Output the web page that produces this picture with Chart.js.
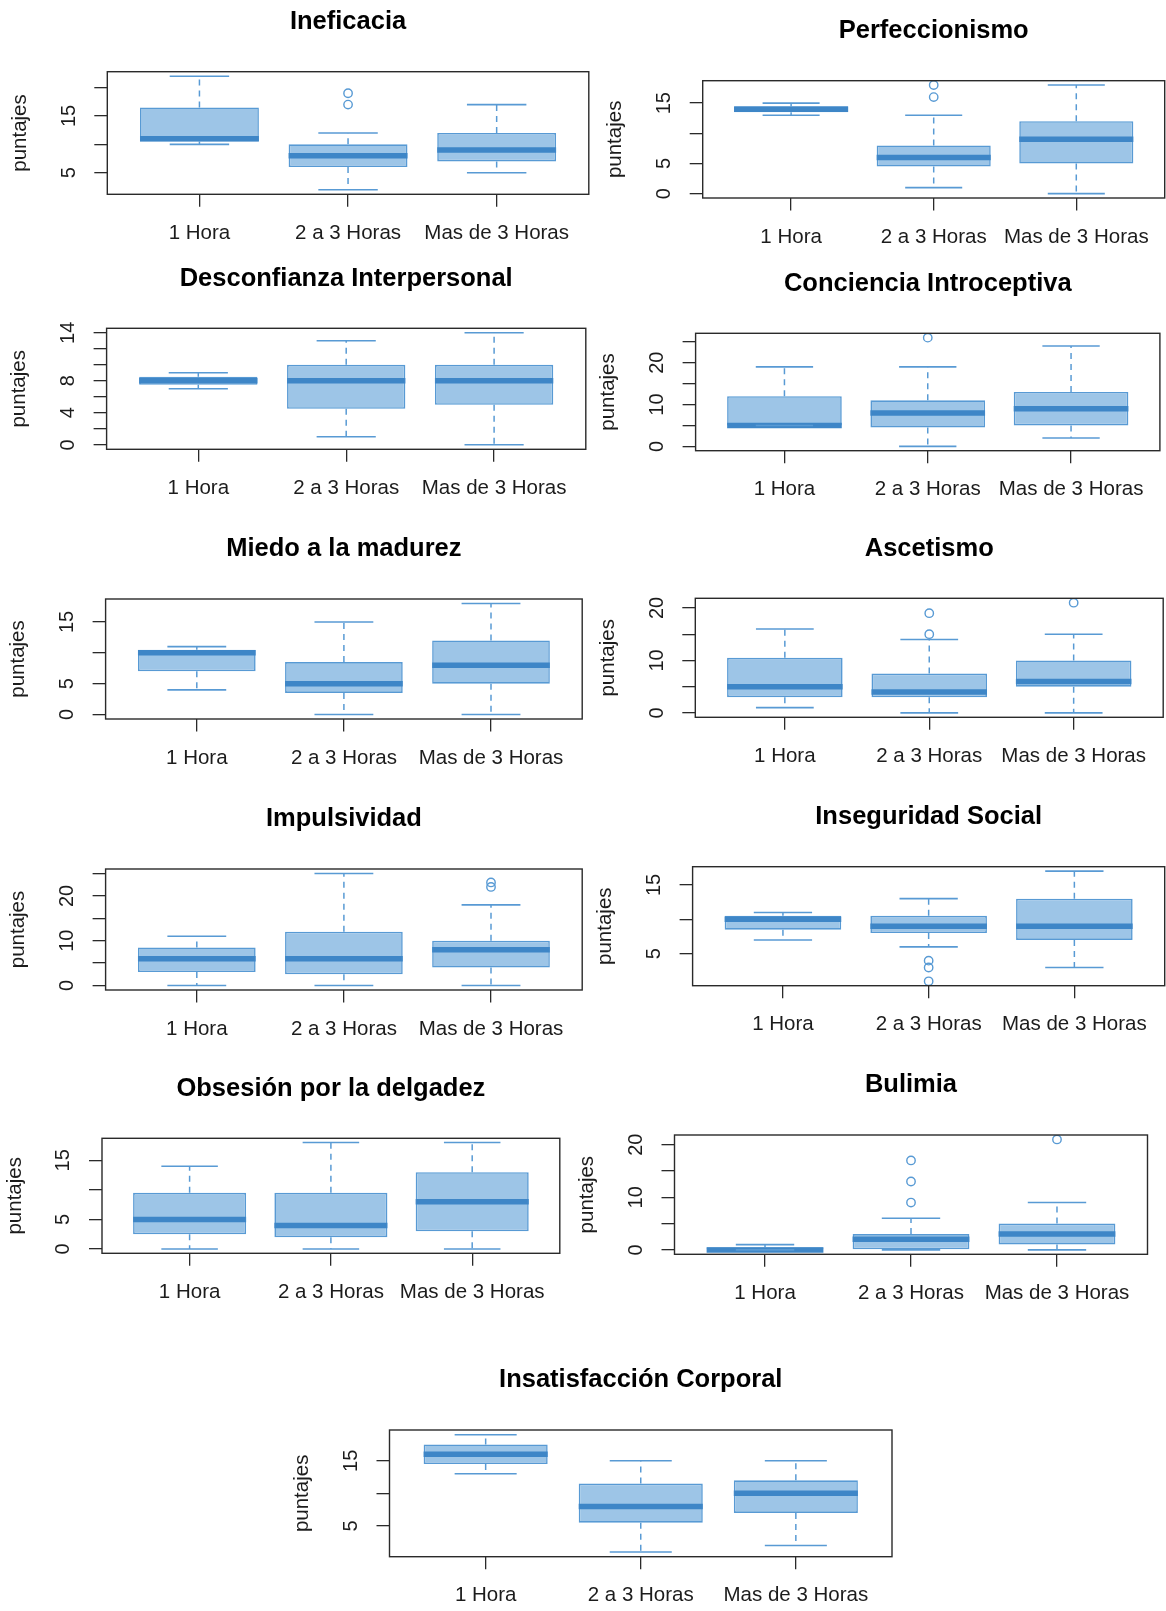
<!DOCTYPE html>
<html>
<head>
<meta charset="utf-8">
<script src="https://cdn.jsdelivr.net/npm/chart.js@4.4.1/dist/chart.umd.min.js"></script>
<style>
html,body{margin:0;padding:0;background:#fff;width:1166px;height:1611px;overflow:hidden;}
#wrap{position:relative;width:1166px;height:1611px;}
canvas{position:absolute;}
</style>
</head>
<body>
<div id="wrap"></div>
<script>
// ---------------- data ----------------
const categories = ['1 Hora', '2 a 3 Horas', 'Mas de 3 Horas'];
const titles = ['Ineficacia', 'Perfeccionismo', 'Desconfianza Interpersonal', 'Conciencia Introceptiva',
  'Miedo a la madurez', 'Ascetismo', 'Impulsividad', 'Inseguridad Social',
  'Obsesión por la delgadez', 'Bulimia', 'Insatisfacción Corporal'];
const yTitle = 'puntajes';

const whiskerLow  = [[10, 2, 5], [13, 1, 0], [7, 1, 0], [5, 0, 2], [4, 0, 0], [1, 0, 0], [0, 0, 0], [7, 6, 3], [0, 0, 0], [0, 0, 0], [13, 1, 2]];
const quartile1   = [[10.5, 6, 7], [13.5, 4.5, 5], [7.5, 4.5, 5], [5, 4.5, 5], [7, 3.5, 5], [3, 3, 5], [3, 2.5, 4], [8.5, 8, 7], [2.5, 2, 3], [0, 0, 1], [14.5, 5.5, 7]];
const medians     = [[11, 8, 9], [14, 6, 9], [8, 8, 8], [5, 8, 9], [10, 5, 8], [5, 4, 6], [6, 6, 8], [10, 9, 9], [5, 4, 8], [0, 2, 3], [16, 8, 10]];
const quartile3   = [[16.5, 10, 12], [14.5, 8, 12], [8.5, 10, 10], [12, 11, 13], [10.5, 8.5, 12], [10.5, 7.5, 10], [8.5, 12, 10], [10.5, 10.5, 13], [9.5, 9.5, 13], [0.5, 3, 5], [17.5, 11.5, 12]];
const whiskerHigh = [[22, 12, 17], [15, 13, 18], [9, 13, 14], [19, 19, 24], [11, 15, 18], [16, 14, 15], [11, 25, 18], [11, 13, 17], [14, 18, 18], [1, 6, 9], [19, 15, 15]];
const outliers    = [[[], [17, 19], []], [[], [16, 18], []], [[], [], []], [[], [26], []], [[], [], []],
  [[], [15, 19], [21]], [[], [], [22, 23]], [[], [1, 3, 4], []], [[], [], []], [[], [9, 13, 17], [21]], [[], [], []]];

const yTicks = [[5, 10, 15, 20], [0, 5, 10, 15], [0, 2, 4, 6, 8, 10, 12, 14], [0, 5, 10, 15, 20, 25], [0, 5, 10, 15],
  [0, 5, 10, 15, 20], [0, 5, 10, 15, 20, 25], [5, 10, 15], [0, 5, 10, 15], [0, 5, 10, 15, 20], [5, 10, 15]];
const yTickLabels = [[5, 15], [0, 5, 15], [0, 4, 8, 14], [0, 10, 20], [0, 5, 15], [0, 10, 20], [0, 10, 20], [5, 15], [0, 5, 15], [0, 10, 20], [5, 15]];

// ---------------- layout (plot frames: left, top, right, bottom) ----------------
const frames = [
  [107.3, 71.7, 588.8, 194.3], [702.7, 80.7, 1164.7, 198],
  [106.6, 328.3, 585.8, 449.3], [695.6, 333.3, 1159.9, 450.7],
  [105.6, 599, 582.2, 719], [695.3, 598.3, 1163.2, 717.3],
  [105.6, 869, 582.2, 990], [692.6, 866.7, 1164.7, 985.7],
  [102, 1138.3, 559.8, 1253.3], [674.5, 1135, 1147.5, 1254.3],
  [389.5, 1430, 892, 1556.7]
];

const FONT = "'Liberation Sans', Arial, Helvetica, sans-serif";
Chart.defaults.font.family = FONT;
const FILL = 'rgb(157,197,231)';
const EDGE = 'rgb(88,154,212)';
const MED = 'rgb(62,134,199)';
const INK = '#1c1c1c';

const TITLE_SIZE = 25.5, TITLE_LH = TITLE_SIZE * 1.2, TITLE_GAP = 49.5;
const AXIS_W = 100, X_AXIS_H = 55;
const LAB_SIZE = 20.5, TICK_SIZE = 20;

const framePlugin = {
  id: 'frame',
  afterDraw(chart) {
    const { ctx, chartArea: a } = chart;
    ctx.save();
    ctx.strokeStyle = '#2a2a2a';
    ctx.lineWidth = 1.4;
    ctx.strokeRect(a.left, a.top, a.right - a.left, a.bottom - a.top);
    ctx.restore();
  }
};

function unitPx(chart, u) {
  const s = chart.scales.x;
  return Math.abs(s.getPixelForValue(1 + u) - s.getPixelForValue(1));
}

const wrap = document.getElementById('wrap');

frames.forEach((f, i) => {
  const canvasLeft = Math.round(f[0] - AXIS_W);
  const yAxisW = f[0] - canvasLeft;
  const canvasW = Math.ceil(f[2] - canvasLeft + 2);
  const padRight = canvasW - (f[2] - canvasLeft);
  const canvasTop = Math.round(f[1] - (TITLE_GAP + TITLE_LH / 2));
  const titlePadBottom = f[1] - canvasTop - TITLE_LH;
  const canvasH = Math.ceil(f[3] - canvasTop + X_AXIS_H);
  const xAxisH = canvasH - (f[3] - canvasTop);
  const puntajesOffset = (f[0] - 87) - canvasLeft - (LAB_SIZE * 1.2) / 2;

  const cv = document.createElement('canvas');
  cv.width = canvasW; cv.height = canvasH;
  cv.style.left = canvasLeft + 'px'; cv.style.top = canvasTop + 'px';
  cv.style.width = canvasW + 'px'; cv.style.height = canvasH + 'px';
  wrap.appendChild(cv);

  const lo = whiskerLow[i], a = quartile1[i], m = medians[i], b = quartile3[i], hi = whiskerHigh[i];
  const outs = outliers[i];
  const allVals = lo.concat(hi, outs.flat());
  const dMin = Math.min(...allVals), dMax = Math.max(...allVals);
  const ext = 0.04 * (dMax - dMin);

  const boxData = categories.map((c, k) => ({ x: k + 1, y: [a[k], b[k]] }));
  const medData = categories.map((c, k) => ({ x: k + 1, y: m[k] }));
  const capData = categories.flatMap((c, k) => [{ x: k + 1, y: lo[k] }, { x: k + 1, y: hi[k] }]);
  const whiskData = categories.flatMap((c, k) => [
    { x: k + 1, y: b[k] }, { x: k + 1, y: hi[k] }, { x: k + 1, y: null },
    { x: k + 1, y: a[k] }, { x: k + 1, y: lo[k] }, { x: k + 1, y: null }
  ]);
  const outData = outs.flatMap((arr, k) => arr.map(v => ({ x: k + 1, y: v })));
  const labelled = yTickLabels[i];

  new Chart(cv, {
    type: 'bar',
    data: {
      datasets: [
        {
          type: 'line', data: whiskData, order: 5,
          borderColor: EDGE, borderWidth: 1.5, borderDash: [6, 5],
          pointRadius: 0, spanGaps: false, fill: false, tension: 0
        },
        {
          type: 'bar', data: boxData, order: 4,
          backgroundColor: FILL, borderColor: EDGE, borderWidth: 1.6, borderSkipped: false,
          barPercentage: 0.8, categoryPercentage: 1.0
        },
        {
          type: 'scatter', data: medData, order: 3,
          pointStyle: 'line', pointRotation: 0,
          pointRadius: (c) => unitPx(c.chart, 0.4),
          pointBorderWidth: 5.5, pointBorderColor: MED, pointBackgroundColor: MED
        },
        {
          type: 'scatter', data: capData, order: 2,
          pointStyle: 'line', pointRotation: 0,
          pointRadius: (c) => unitPx(c.chart, 0.2),
          pointBorderWidth: 1.6, pointBorderColor: EDGE, pointBackgroundColor: EDGE
        },
        {
          type: 'scatter', data: outData, order: 1,
          pointStyle: 'circle', pointRadius: 4.2,
          pointBorderWidth: 1.4, pointBorderColor: EDGE, pointBackgroundColor: 'rgba(0,0,0,0)'
        }
      ]
    },
    options: {
      responsive: false,
      animation: false,
      events: [],
      devicePixelRatio: 1,
      layout: { autoPadding: false, padding: { left: 0, top: 0, right: padRight, bottom: 0 } },
      plugins: {
        legend: { display: false },
        tooltip: { enabled: false },
        title: {
          display: true, text: titles[i], fullSize: false, color: '#000',
          font: { family: FONT, size: TITLE_SIZE, weight: 'bold' },
          padding: { top: 0, bottom: titlePadBottom }
        }
      },
      scales: {
        x: {
          type: 'linear', min: 0.38, max: 3.62, offset: false,
          afterBuildTicks: (s) => { s.ticks = categories.map((c, k) => ({ value: k + 1 })); },
          afterFit: (s) => { s.height = xAxisH; },
          ticks: {
            autoSkip: false, maxRotation: 0, minRotation: 0, padding: 14.2, color: INK,
            font: { family: FONT, size: LAB_SIZE },
            callback: (v) => categories[Math.round(v) - 1]
          },
          grid: { offset: false, drawOnChartArea: false, drawTicks: true, tickLength: 12.5, color: '#2a2a2a', lineWidth: 1.3 },
          border: { display: false }
        },
        y: {
          type: 'linear', min: dMin - ext, max: dMax + ext,
          afterBuildTicks: (s) => { s.ticks = yTicks[i].map(v => ({ value: v })); },
          afterFit: (s) => { s.width = yAxisW; },
          ticks: {
            autoSkip: false, minRotation: 90, maxRotation: 90, crossAlign: 'center', padding: 13.9, color: INK,
            font: { family: FONT, size: TICK_SIZE },
            callback: (v) => (labelled.includes(v) ? String(v) : '')
          },
          grid: { drawOnChartArea: false, drawTicks: true, tickLength: 13, color: '#2a2a2a', lineWidth: 1.3 },
          border: { display: false },
          title: {
            display: true, text: yTitle, color: INK,
            font: { family: FONT, size: LAB_SIZE },
            padding: { top: puntajesOffset, bottom: 0 }
          }
        }
      }
    },
    plugins: [framePlugin]
  });
});
</script>
</body>
</html>
